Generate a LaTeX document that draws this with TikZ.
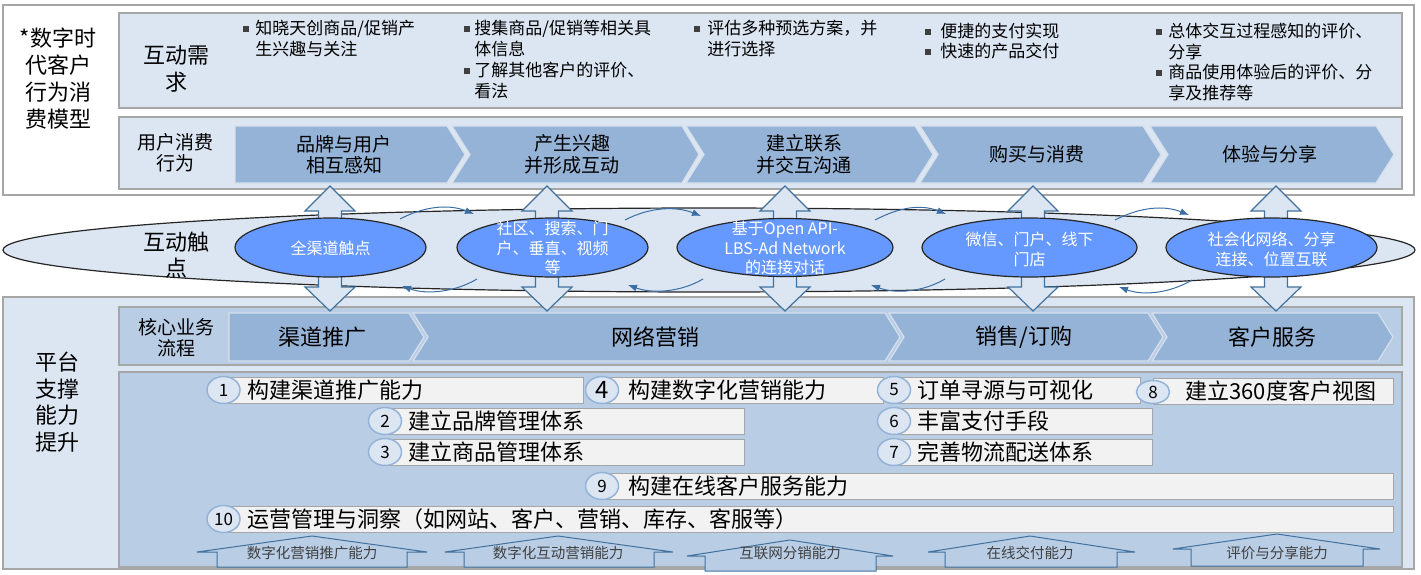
\documentclass[tikz,border=0pt]{standalone}
\usepackage{fontspec}
\setmainfont{Noto Sans CJK SC}
\usetikzlibrary{shapes.geometric, arrows.meta}

\tikzset{every picture/.style={line width=0.75pt}}
\tikzset{
  frame/.style={color={rgb, 255:red, 166; green, 166; blue, 166 }, line width=1.5pt},
  pale/.style={fill={rgb, 255:red, 220; green, 230; blue, 242 }},
  deep/.style={fill={rgb, 255:red, 185; green, 205; blue, 229 }},
  chev/.style={color={rgb, 255:red, 214; green, 224; blue, 236 }, fill={rgb, 255:red, 149; green, 179; blue, 215 }, line width=1.2pt},
  band/.style={color={rgb, 255:red, 38; green, 38; blue, 38 }, fill={rgb, 255:red, 220; green, 230; blue, 242 }, line width=1.2pt},
  twoway/.style={color={rgb, 255:red, 65; green, 113; blue, 156 }, fill={rgb, 255:red, 220; green, 230; blue, 242 }, line width=1.2pt},
  touch/.style={color={rgb, 255:red, 38; green, 38; blue, 38 }, fill={rgb, 255:red, 102; green, 153; blue, 255 }, line width=1.2pt},
  swirl/.style={-{Latex[length=9pt, width=7pt]}, color={rgb, 255:red, 58; green, 110; blue, 165 }, line width=1pt},
  capbar/.style={color={rgb, 255:red, 166; green, 166; blue, 166 }, fill={rgb, 255:red, 242; green, 242; blue, 242 }, line width=1pt},
  capnum/.style={ellipse, draw={rgb, 255:red, 149; green, 179; blue, 215 }, fill={rgb, 255:red, 220; green, 230; blue, 242 }, line width=1.5pt, minimum width=33pt, minimum height=27pt, inner sep=0pt, font=\fontsize{17}{17}\selectfont},
  house/.style={color={rgb, 255:red, 65; green, 113; blue, 156 }, fill={rgb, 255:red, 185; green, 205; blue, 229 }, line width=1pt},
  dot/.style={fill={rgb, 255:red, 64; green, 64; blue, 64 }},
  bigtxt/.style={anchor=center, align=center, font=\fontsize{22}{27}\selectfont},
  midtxt/.style={anchor=center, align=center, font=\fontsize{19}{21.5}\selectfont},
  needtxt/.style={anchor=north west, align=left, inner sep=0pt, font=\fontsize{17}{21}\selectfont},
  touchtxt/.style={anchor=center, align=center, text=white, font=\fontsize{16}{19.5}\selectfont},
  captxt/.style={anchor=west, inner sep=0pt, font=\fontsize{22}{22}\selectfont},
  basetxt/.style={anchor=center, inner sep=0pt, text={rgb, 255:red, 64; green, 64; blue, 64 }, font=\fontsize{14.5}{14.5}\selectfont}
}

\begin{document}
\begin{tikzpicture}[x=1pt,y=1pt,yscale=-1,xscale=1]
\useasboundingbox (0,0) rectangle (1421,574);

%% ---------------- customer behaviour model (top) ----------------
\draw [frame, fill=white] (3,5) rectangle (1414,195);
\draw [frame, pale] (119,13) rectangle (1402,108);
\draw [frame, pale] (119,117) rectangle (1402,189);

\draw [chev] (235,126) -- (447,126) -- (465,154.5) -- (447,183) -- (235,183) -- cycle ;
\draw [chev] (452,126) -- (682,126) -- (699,154.5) -- (682,183) -- (452,183) -- (470,154.5) -- cycle ;
\draw [chev] (686,126) -- (915,126) -- (933,154.5) -- (915,183) -- (686,183) -- (704,154.5) -- cycle ;
\draw [chev] (920,126) -- (1143,126) -- (1161,154.5) -- (1143,183) -- (920,183) -- (938,154.5) -- cycle ;
\draw [chev] (1150,126) -- (1376,126) -- (1394,154.5) -- (1376,183) -- (1150,183) -- (1168,154.5) -- cycle ;

%% bullets of the needs row
\fill [dot] (243,26) rectangle ++(5.5,5.5);
\fill [dot] (464,26) rectangle ++(5.5,5.5);
\fill [dot] (464,68) rectangle ++(5.5,5.5);
\fill [dot] (694,26) rectangle ++(5.5,5.5);
\fill [dot] (925,29) rectangle ++(5.5,5.5);
\fill [dot] (925,49) rectangle ++(5.5,5.5);
\fill [dot] (1156,29) rectangle ++(5.5,5.5);
\fill [dot] (1156,70) rectangle ++(5.5,5.5);

%% ---------------- platform support (bottom) ----------------
\draw [frame, pale] (3,297) rectangle (1414,569);
\draw [frame, deep] (119,307) rectangle (1402,365);
\draw [frame, deep] (119,372) rectangle (1402,567);

\draw [chev] (229,313) -- (409,313) -- (424,337) -- (409,361) -- (229,361) -- cycle ;
\draw [chev] (413,313) -- (885,313) -- (900,337) -- (885,361) -- (413,361) -- (428,337) -- cycle ;
\draw [chev] (889,313) -- (1148,313) -- (1163,337) -- (1148,361) -- (889,361) -- (904,337) -- cycle ;
\draw [chev] (1152,313) -- (1378,313) -- (1393,337) -- (1378,361) -- (1152,361) -- (1167,337) -- cycle ;

%% capability bars
\draw [capbar] (223.5,377) rectangle (583,403);
\draw [capbar] (602,377) rectangle (883,403);
\draw [capbar] (894,377) rectangle (1140,403);
\draw [capbar] (1153,378) rectangle (1393,404);
\draw [capbar] (385,408) rectangle (744,434);
\draw [capbar] (385,439) rectangle (744,465);
\draw [capbar] (894,408) rectangle (1152,434);
\draw [capbar] (894,439) rectangle (1152,465);
\draw [capbar] (602,473) rectangle (1393,499);
\draw [capbar] (223.5,506) rectangle (1393,532);

\draw (223.5,390) node (n1) [capnum] {1};
\draw (602,390) node (n4) [capnum, font=\fontsize{24}{24}\selectfont] {4};
\draw (894,390) node (n5) [capnum] {5};
\draw (1153,392) node (n8) [capnum, minimum height=23pt] {8};
\draw (385,421) node (n2) [capnum] {2};
\draw (385,452) node (n3) [capnum] {3};
\draw (894,421) node (n6) [capnum] {6};
\draw (894,452) node (n7) [capnum] {7};
\draw (602,486) node (n9) [capnum] {9};
\draw (223.5,519) node (n10) [capnum] {10};

%% supporting capability arrows
\draw [house] (217,567) -- (217,552) -- (197,552) -- (312,536) -- (427,552) -- (407,552) -- (407,567) -- cycle ;
\draw [house] (464,567) -- (464,552) -- (445,552) -- (558,536) -- (673,552) -- (654,552) -- (654,567) -- cycle ;
\draw [house] (705,571) -- (705,556) -- (687,556) -- (790,540) -- (893,556) -- (876,556) -- (876,571) -- cycle ;
\draw [house] (945,567) -- (945,552) -- (928,552) -- (1030,536) -- (1135,552) -- (1117,552) -- (1117,567) -- cycle ;
\draw [house] (1191,566) -- (1191,549) -- (1173,549) -- (1277,534) -- (1380,549) -- (1363,549) -- (1363,566) -- cycle ;

%% ---------------- touch points (middle band) ----------------
\draw [band] (709,250) ellipse (706pt and 42pt);

\draw [twoway] (330,186) -- ++(25,25) -- ++(-13.5,0) -- ++(0,76) -- ++(13.5,0) -- ++(-25,24) -- ++(-25,-24) -- ++(13.5,0) -- ++(0,-76) -- ++(-13.5,0) -- cycle ;
\draw [twoway] (547,186) -- ++(25,25) -- ++(-13.5,0) -- ++(0,76) -- ++(13.5,0) -- ++(-25,24) -- ++(-25,-24) -- ++(13.5,0) -- ++(0,-76) -- ++(-13.5,0) -- cycle ;
\draw [twoway] (785,186) -- ++(25,25) -- ++(-13.5,0) -- ++(0,76) -- ++(13.5,0) -- ++(-25,24) -- ++(-25,-24) -- ++(13.5,0) -- ++(0,-76) -- ++(-13.5,0) -- cycle ;
\draw [twoway] (1033,186) -- ++(25,25) -- ++(-13.5,0) -- ++(0,76) -- ++(13.5,0) -- ++(-25,24) -- ++(-25,-24) -- ++(13.5,0) -- ++(0,-76) -- ++(-13.5,0) -- cycle ;
\draw [twoway] (1276,186) -- ++(25,25) -- ++(-13.5,0) -- ++(0,76) -- ++(13.5,0) -- ++(-25,24) -- ++(-25,-24) -- ++(13.5,0) -- ++(0,-76) -- ++(-13.5,0) -- cycle ;

\draw [touch] (330.5,247.5) ellipse (95.5pt and 29.5pt);
\draw [touch] (552.5,247.5) ellipse (95.5pt and 29.5pt);
\draw [touch] (785,247.5) ellipse (108pt and 29pt);
\draw [touch] (1029.5,247.5) ellipse (107.5pt and 29.5pt);
\draw [touch] (1271.5,247.5) ellipse (105.5pt and 29.5pt);

%% hand-over arcs between touch points
\coordinate (up1s) at (400,219);  \coordinate (up1e) at (474,214);
\coordinate (up2s) at (625,220);  \coordinate (up2e) at (701,216);
\coordinate (up3s) at (875,220);  \coordinate (up3e) at (946,214);
\coordinate (up4s) at (1115,220); \coordinate (up4e) at (1189,215);
\coordinate (dn1s) at (477,279);  \coordinate (dn1e) at (402,286);
\coordinate (dn2s) at (703,279);  \coordinate (dn2e) at (628,285);
\coordinate (dn3s) at (945,279);  \coordinate (dn3e) at (871,285);
\coordinate (dn4s) at (1192,280); \coordinate (dn4e) at (1119,287);

\draw [swirl] (up1s) .. controls +(25,-13) and +(-25,-10) .. (up1e) ;
\draw [swirl] (up2s) .. controls +(25,-13) and +(-25,-10) .. (up2e) ;
\draw [swirl] (up3s) .. controls +(25,-13) and +(-25,-10) .. (up3e) ;
\draw [swirl] (up4s) .. controls +(25,-13) and +(-25,-10) .. (up4e) ;
\draw [swirl] (dn1s) .. controls +(-22,13) and +(25,9) .. (dn1e) ;
\draw [swirl] (dn2s) .. controls +(-22,13) and +(25,9) .. (dn2e) ;
\draw [swirl] (dn3s) .. controls +(-22,13) and +(25,9) .. (dn3e) ;
\draw [swirl] (dn4s) .. controls +(-22,13) and +(25,9) .. (dn4e) ;

%% ---------------- text ----------------
\draw (58,78.5) node (model) [bigtxt] {*数字时\\代客户\\行为消\\费模型};
\draw (176,68.5) node (needs) [bigtxt] {互动需\\求};
\draw (175,153) node (behave) [midtxt] {用户消费\\行为};

\draw (255,19.5) node (need1) [needtxt] {知晓天创商品/促销产\\生兴趣与关注};
\draw (474,19.5) node (need2a) [needtxt] {搜集商品/促销等相关具\\体信息};
\draw (474,61.5) node (need2b) [needtxt] {了解其他客户的评价、\\看法};
\draw (707,19.5) node (need3) [needtxt] {评估多种预选方案，并\\进行选择};
\draw (940,22.5) node (need4a) [needtxt] {便捷的支付实现};
\draw (940,42.5) node (need4b) [needtxt] {快速的产品交付};
\draw (1168,22.5) node (need5a) [needtxt] {总体交互过程感知的评价、\\分享};
\draw (1168,63.5) node (need5b) [needtxt] {商品使用体验后的评价、分\\享及推荐等};

\draw (344,154.5) node (stage1) [midtxt] {品牌与用户\\相互感知};
\draw (572,154.5) node (stage2) [midtxt] {产生兴趣\\并形成互动};
\draw (804,154.5) node (stage3) [midtxt] {建立联系\\并交互沟通};
\draw (1037,154.5) node (stage4) [midtxt] {购买与消费};
\draw (1270,154.5) node (stage5) [midtxt] {体验与分享};

\draw (176,255) node (touchlbl) [bigtxt, font=\fontsize{22}{26}\selectfont] {互动触\\点};
\draw (330.5,248) node (tp1) [touchtxt] {全渠道触点};
\draw (552.5,248) node (tp2) [touchtxt] {社区、搜索、门\\户、垂直、视频\\等};
\draw (785,248) node (tp3) [touchtxt] {基于Open API-\\LBS-Ad Network\\的连接对话};
\draw (1029.5,249.5) node (tp4) [touchtxt] {微信、门户、线下\\门店};
\draw (1271.5,249.5) node (tp5) [touchtxt] {社会化网络、分享\\连接、位置互联};

\draw (57.5,402) node (platform) [bigtxt, font=\fontsize{22}{26.7}\selectfont] {平台\\支撑\\能力\\提升};
\draw (176,337.5) node (core) [midtxt] {核心业务\\流程};
\draw (322,337) node (flow1) [bigtxt] {渠道推广};
\draw (655,337) node (flow2) [bigtxt] {网络营销};
\draw (1024,337) node (flow3) [bigtxt] {销售/订购};
\draw (1272,337) node (flow4) [bigtxt] {客户服务};

\draw (247,390) node (c1) [captxt] {构建渠道推广能力};
\draw (628,390) node (c4) [captxt] {构建数字化营销能力};
\draw (917,390) node (c5) [captxt] {订单寻源与可视化};
\draw (1185,391) node (c8) [captxt] {建立360度客户视图};
\draw (408,421) node (c2) [captxt] {建立品牌管理体系};
\draw (408,452) node (c3) [captxt] {建立商品管理体系};
\draw (917,421) node (c6) [captxt] {丰富支付手段};
\draw (917,452) node (c7) [captxt] {完善物流配送体系};
\draw (628,486) node (c9) [captxt] {构建在线客户服务能力};
\draw (247,519) node (c10) [captxt] {运营管理与洞察（如网站、客户、营销、库存、客服等）};

\draw (312,553) node (base1) [basetxt] {数字化营销推广能力};
\draw (558,553) node (base2) [basetxt] {数字化互动营销能力};
\draw (790,553) node (base3) [basetxt] {互联网分销能力};
\draw (1030,553) node (base4) [basetxt] {在线交付能力};
\draw (1277,553) node (base5) [basetxt] {评价与分享能力};

\end{tikzpicture}
\end{document}
